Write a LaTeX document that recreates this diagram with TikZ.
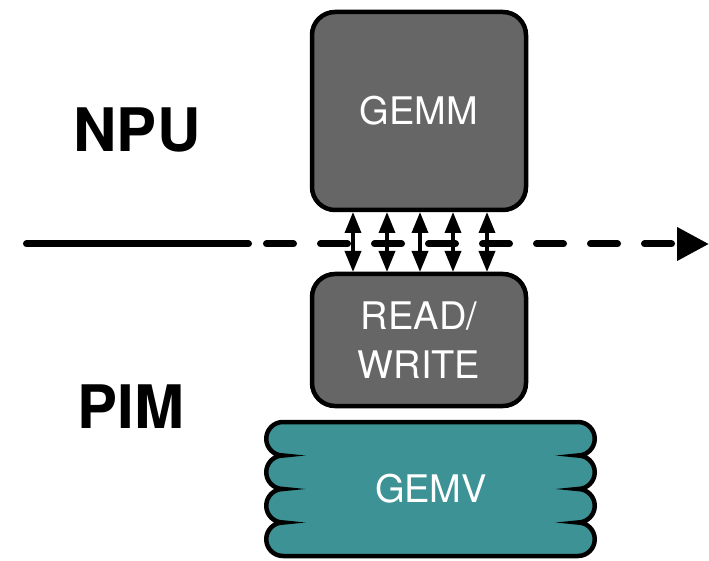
\documentclass[tikz,border=0pt]{standalone}
\usepackage{fontspec}
\setmainfont{TeX Gyre Heros}
\usetikzlibrary{arrows.meta}
\definecolor{chipgray}{HTML}{666666}
\definecolor{pimteal}{HTML}{3D9295}

\tikzstyle{unit}=[rectangle,rounded corners=23pt,draw=black,line width=4.5pt,fill=chipgray,text=white,font=\fontsize{38}{49}\selectfont,align=center,inner sep=0pt,outer sep=0pt,minimum width=214pt]
\tikzstyle{label} = [text=white,font=\fontsize{38}{49}\selectfont]
\tikzstyle{side} = [font=\fontsize{60}{60}\selectfont\bfseries]
\tikzstyle{bus} = [line width=7pt,line cap=round]
\tikzstyle{port} = [{Triangle[length=21pt,width=16pt]}-{Triangle[length=21pt,width=16pt]},line width=3.5pt,shorten >=2pt,shorten <=2pt]

\begin{document}
\begin{tikzpicture}[x=1pt,y=1pt]
\useasboundingbox (0,0) rectangle (709,560);
% memory bank with wavy sides
\draw[line width=4.5pt,fill=pimteal] (283,138) -- (578,138)
  arc[start angle=90,end angle=-90,radius=16.75]
  arc[start angle=90,end angle=-90,radius=16.75]
  arc[start angle=90,end angle=-90,radius=16.75]
  arc[start angle=90,end angle=-90,radius=16.75]
  -- (283,4)
  arc[start angle=-90,end angle=-270,radius=16.75]
  arc[start angle=-90,end angle=-270,radius=16.75]
  arc[start angle=-90,end angle=-270,radius=16.75]
  arc[start angle=-90,end angle=-270,radius=16.75]
  -- cycle;
\node[label] (gemv) at (431,71) {GEMV};
\node[unit, minimum height=198pt] (gemm) at (419,449) {GEMM};
\node[unit, minimum height=132pt] (rw) at (419,220) {READ/\\WRITE};
\node[side] (npu) at (137,430) {NPU};
\node[side] (pim) at (131,153) {PIM};
% boundary line
\coordinate (busstart) at (26.5,316);
\coordinate (busbreak) at (248.5,316);
\coordinate (dashstart) at (266.5,316);
\coordinate (busend) at (709,316);
\draw[bus] (busstart) -- (busbreak);
\draw[bus, dash pattern=on 27pt off 27pt, -{Triangle[length=32pt,width=32pt]}] (dashstart) -- (busend);
\foreach \x/\name in {353/p1, 387/p2, 420/p3, 453/p4, 487/p5}
\coordinate (\name) at (\x,316);
\foreach \name in {p1,p2,p3,p4,p5}
\draw[port] (gemm.south -| \name) -- (rw.north -| \name);
\end{tikzpicture}
\end{document}
